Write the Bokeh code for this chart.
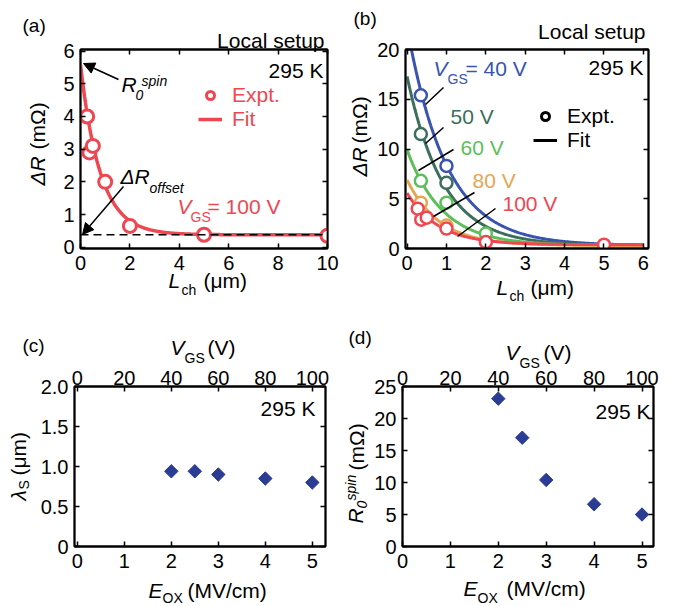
import numpy as np
from bokeh.plotting import figure
from bokeh.models import (Range1d, LinearAxis, FixedTicker, Label, Arrow, NormalHead,
                          Span, Legend, LegendItem, CustomJSTickFormatter, GridBox)
from bokeh.layouts import column, row
from bokeh.embed import file_html
from bokeh.resources import INLINE

FONT = "Liberation Sans"

# ---------------- data ----------------
# (a) Delta R vs channel length, V_GS = 100 V
a_L = [0.27, 0.36, 0.5, 1.0, 2.0, 5.0, 10.0]
a_dR = [4.0, 2.9, 3.1, 2.0, 0.65, 0.38, 0.35]

# (b) Delta R vs channel length for several gate voltages
b_L_40 = [0.35, 1.0]
b_dR_40 = [15.4, 8.3]
b_L_50 = [0.35, 1.0]
b_dR_50 = [11.5, 6.6]
b_L_60 = [0.35, 1.0, 2.0]
b_dR_60 = [6.8, 4.6, 1.5]
b_L_80 = [0.35, 1.0]
b_dR_80 = [4.6, 2.3]
b_L_100 = [0.27, 0.36, 0.5, 1.0, 2.0, 5.0]
b_dR_100 = [4.0, 2.9, 3.1, 2.0, 0.65, 0.38]

# exponential fit parameters: dR = R0*exp(-L/lam) + offset
fit_vgs = ["40 V", "50 V", "60 V", "80 V", "100 V"]
fit_R0 = [22.0, 17.0, 9.6, 6.6, 5.2]
fit_lam = [1.0, 0.92, 0.9, 0.82, 0.8]
fit_off = [0.3, 0.3, 0.3, 0.3, 0.38]

# (c), (d) vs oxide field
e_ox = [2.0, 2.5, 3.0, 4.0, 5.0]
lam_s = [0.94, 0.94, 0.9, 0.85, 0.8]
r0_spin = [23.1, 17.0, 10.4, 6.6, 5.0]

# ticks
a_xticks = [0, 2, 4, 6, 8, 10]
a_yticks = [0, 1, 2, 3, 4, 5, 6]
b_xticks = [0, 1, 2, 3, 4, 5, 6]
b_yticks = [0, 5, 10, 15, 20]
e_ticks = [0, 1, 2, 3, 4, 5]
vgs_ticks = [0, 20, 40, 60, 80, 100]
c_yticks = [0, 0.5, 1.0, 1.5, 2.0]
d_yticks = [0, 5, 10, 15, 20, 25]

RED = "#ef4752"
BLUE = "#3953b0"
DGREEN = "#3b6e5c"
GREEN = "#5cbf5a"
ORANGE = "#e4a752"
NAVY = "#2b3c95"
series_colors = [BLUE, DGREEN, GREEN, ORANGE, RED]

TICK_FS = "20px"
TXT = 21
SUB = 14
W, H = 689, 606


def style_axis(ax, ticks, labels=True, standoff=5, fmt=None):
    ax.ticker = FixedTicker(ticks=ticks)
    ax.major_tick_in = 5
    ax.major_tick_out = 0
    ax.minor_tick_line_color = None
    ax.axis_line_width = 1.8
    ax.major_tick_line_width = 1.5
    ax.major_label_text_font = FONT
    ax.major_label_text_font_size = TICK_FS
    ax.major_label_text_color = "black"
    ax.major_label_standoff = standoff
    ax.axis_label = None
    if fmt is not None:
        ax.formatter = fmt
    if not labels:
        ax.major_label_text_color = None
        ax.major_label_text_font_size = "1px"


def make_fig(fl, fr, ft, fb, fig_l, fig_r, fig_t, fig_b, xr, yr):
    p = figure(frame_width=fr - fl, frame_height=fb - ft,
               min_border_left=fl - fig_l, min_border_right=fig_r - fr,
               min_border_top=ft - fig_t, min_border_bottom=fig_b - fb,
               x_range=Range1d(*xr), y_range=Range1d(*yr),
               output_backend="svg", toolbar_location=None)
    p.xgrid.visible = False
    p.ygrid.visible = False
    p.outline_line_color = "black"
    p.outline_line_width = 1.8
    p.background_fill_color = "white"
    p.border_fill_color = "white"
    return p


# transparent overlay holding all texts and pointers, in page pixels
ov = figure(frame_width=W, frame_height=H, min_border=0,
            x_range=Range1d(0, W), y_range=Range1d(H, 0),
            x_axis_location=None, y_axis_location=None,
            output_backend="svg", toolbar_location=None,
            background_fill_color=None, border_fill_color=None)
ov.outline_line_color = None
ov.grid.visible = False


def lab(px, py, text, size=TXT, color="black", italic=False, align="left", angle=0.0):
    ov.add_layout(Label(x=px, y=py, text=text, text_font=FONT, text_font_size=f"{size}px",
                        text_font_style="italic" if italic else "normal",
                        text_color=color, text_align=align, text_baseline="middle",
                        angle=angle))


def seg(x0, y0, x1, y1, head=False):
    ov.add_layout(Arrow(x_start=x0, y_start=y0, x_end=x1, y_end=y1,
                        line_color="black", line_width=1.5,
                        end=NormalHead(size=11, fill_color="black", line_color="black") if head else None))


ROT = np.pi / 2

# ---------------- panel (a) ----------------
pa = make_fig(80, 327, 49, 248, 0, 348, 0, 300, (0, 10), (-0.04, 6.05))
style_axis(pa.xaxis[0], a_xticks, standoff=7)
style_axis(pa.yaxis[0], a_yticks, standoff=6)
ax_t = LinearAxis(); style_axis(ax_t, a_xticks, labels=False); pa.add_layout(ax_t, "above")
ax_r = LinearAxis(); style_axis(ax_r, a_yticks, labels=False); pa.add_layout(ax_r, "right")

pa.add_layout(Span(location=fit_off[4], dimension="width", line_color="black",
                   line_width=1.5, line_dash="8 5"))
xa = np.linspace(0, 10, 300)
ya = fit_R0[4] * np.exp(-xa / fit_lam[4]) + fit_off[4]
ra_fit = pa.line(xa, ya, line_color=RED, line_width=3.5)
ra_pts = pa.scatter(a_L, a_dR, marker="circle", size=13, line_color=RED, line_width=3,
                    fill_color="white")
leg_a = Legend(items=[LegendItem(label="Expt.", renderers=[ra_pts]),
                      LegendItem(label="Fit", renderers=[ra_fit])],
               location=(118, 117), glyph_width=24, glyph_height=20, label_height=20,
               label_standoff=10, spacing=-2, padding=0, margin=0,
               border_line_color=None, background_fill_alpha=0,
               label_text_font=FONT, label_text_font_size=f"{TXT}px", label_text_color=RED)
pa.add_layout(leg_a)

lab(22, 25, "(a)", size=19)
lab(324, 40, "Local setup", align="right")
lab(323, 70, "295 K", align="right")
lab(121, 84, "R", italic=True)
lab(135, 94, "0", size=SUB, italic=True)
lab(141, 80, "spin", size=SUB, italic=True)
seg(118, 79, 83, 63, head=True)
lab(120, 176, "ΔR", italic=True)
lab(149, 187, "offset", size=SUB, italic=True)
seg(123, 186, 82, 234, head=True)
lab(177, 206, "V", italic=True, color=RED)
lab(190, 216, "GS", size=SUB, color=RED)
lab(207, 206, "= 100 V", color=RED)
lab(168, 280, "L", italic=True)
lab(181, 289, "ch", size=SUB)
lab(203, 280, "(μm)")
lab(37, 185, "ΔR", italic=True, angle=ROT)
lab(37, 149, "(mΩ)", angle=ROT)

# ---------------- panel (b) ----------------
pb = make_fig(405, 648, 49, 248, 348, W, 0, 300, (-0.04, 6.13), (0, 20))
style_axis(pb.xaxis[0], b_xticks, standoff=7)
style_axis(pb.yaxis[0], b_yticks, standoff=6)
bx_t = LinearAxis(); style_axis(bx_t, b_xticks, labels=False); pb.add_layout(bx_t, "above")
bx_r = LinearAxis(); style_axis(bx_r, b_yticks, labels=False); pb.add_layout(bx_r, "right")

xb = np.linspace(0, 6, 300)
b_pts = [(b_L_40, b_dR_40), (b_L_50, b_dR_50), (b_L_60, b_dR_60), (b_L_80, b_dR_80),
         (b_L_100, b_dR_100)]
for i in range(len(fit_vgs)):
    yb = fit_R0[i] * np.exp(-xb / fit_lam[i]) + fit_off[i]
    pb.line(xb, yb, line_color=series_colors[i], line_width=3)
for i in range(len(fit_vgs)):
    pb.scatter(b_pts[i][0], b_pts[i][1], marker="circle", size=12,
               line_color=series_colors[i], line_width=2.5, fill_color="white")

# black legend keys (hidden renderers)
rb_pt = pb.scatter(b_L_100, b_dR_100, marker="circle", size=12, line_color="black",
                   line_width=3, fill_color="white", visible=False)
rb_ln = pb.line(b_L_100, b_dR_100, line_color="black", line_width=3, visible=False)
leg_b = Legend(items=[LegendItem(label="Expt.", renderers=[rb_pt]),
                      LegendItem(label="Fit", renderers=[rb_ln])],
               location=(128, 96), glyph_width=24, glyph_height=20, label_height=20,
               label_standoff=10, spacing=-3, padding=0, margin=0,
               border_line_color=None, background_fill_alpha=0,
               label_text_font=FONT, label_text_font_size=f"{TXT}px", label_text_color="black")
pb.add_layout(leg_b)

lab(353, 18, "(b)", size=19)
lab(645, 31, "Local setup", align="right")
lab(643, 67, "295 K", align="right")
lab(433, 68, "V", italic=True, color=BLUE)
lab(447, 78, "GS", size=SUB, color=BLUE)
lab(465, 68, "= " + fit_vgs[0], color=BLUE)
lab(450, 116, fit_vgs[1], color=DGREEN)
lab(460, 147, fit_vgs[2], color=GREEN)
lab(472, 180, fit_vgs[3], color=ORANGE)
lab(502, 203, fit_vgs[4], color=RED)
seg(443, 87, 425, 104)
seg(443, 127, 425, 143)
seg(453, 149, 418, 170)
seg(474, 192, 433, 216)
seg(495, 208, 457, 236)
lab(496, 287, "L", italic=True)
lab(509, 295, "ch", size=SUB)
lab(530, 287, "(μm)")
lab(359, 176, "ΔR", italic=True, angle=ROT)
lab(359, 143, "(mΩ)", angle=ROT)

# ---------------- panel (c) ----------------
c_x = (-0.06, 5.28)
pc = make_fig(74, 325, 386, 546, 0, 348, 300, H, c_x, (0, 2))
pc.extra_x_ranges = {"vgs": Range1d(c_x[0] * 20, c_x[1] * 20)}
style_axis(pc.xaxis[0], e_ticks, standoff=7)
style_axis(pc.yaxis[0], c_yticks, standoff=6,
           fmt=CustomJSTickFormatter(code="return tick == 0 ? '0' : tick.toFixed(1)"))
cx_t = LinearAxis(x_range_name="vgs"); style_axis(cx_t, vgs_ticks, standoff=2)
pc.add_layout(cx_t, "above")
cx_r = LinearAxis(); style_axis(cx_r, c_yticks, labels=False); pc.add_layout(cx_r, "right")
pc.scatter(e_ox, lam_s, marker="square", angle=np.pi / 4, size=9.5,
           fill_color=NAVY, line_color=NAVY)

lab(22, 345, "(c)", size=19)
lab(315, 408, "295 K", align="right")
lab(170, 347, "V", italic=True)
lab(184, 357, "GS", size=SUB)
lab(207, 347, "(V)")
lab(148, 590, "E", italic=True)
lab(162, 597, "OX", size=SUB)
lab(187, 590, "(MV/cm)")
lab(18, 500, "λ", italic=True, angle=ROT)
lab(23, 489, "S", size=SUB, angle=ROT)
lab(18, 475, "(μm)", angle=ROT)

# ---------------- panel (d) ----------------
d_x = (0, 5.24)
pd_ = make_fig(402, 653, 386, 546, 348, W, 300, H, d_x, (0, 25))
pd_.extra_x_ranges = {"vgs": Range1d(d_x[0] * 20, d_x[1] * 20)}
style_axis(pd_.xaxis[0], e_ticks, standoff=7)
style_axis(pd_.yaxis[0], d_yticks, standoff=6)
dx_t = LinearAxis(x_range_name="vgs"); style_axis(dx_t, vgs_ticks, standoff=2)
pd_.add_layout(dx_t, "above")
dx_r = LinearAxis(); style_axis(dx_r, d_yticks, labels=False); pd_.add_layout(dx_r, "right")
pd_.scatter(e_ox, r0_spin, marker="square", angle=np.pi / 4, size=9.5,
            fill_color=NAVY, line_color=NAVY)

lab(348, 337, "(d)", size=19)
lab(650, 411, "295 K", align="right")
lab(505, 352, "V", italic=True)
lab(519, 362, "GS", size=SUB)
lab(543, 352, "(V)")
lab(463, 588, "E", italic=True)
lab(477, 597, "OX", size=SUB)
lab(506, 588, "(MV/cm)")
lab(355, 523, "R", italic=True, angle=ROT)
lab(361, 508, "0", size=SUB, italic=True, angle=ROT)
lab(350, 500, "spin", size=SUB, italic=True, angle=ROT)
lab(356, 470, "(mΩ)", angle=ROT)

panels = column(row(pa, pb), row(pc, pd_))
layout = GridBox(children=[(panels, 0, 0), (ov, 0, 0)])
open("out.html", "w").write(file_html(layout, INLINE))
